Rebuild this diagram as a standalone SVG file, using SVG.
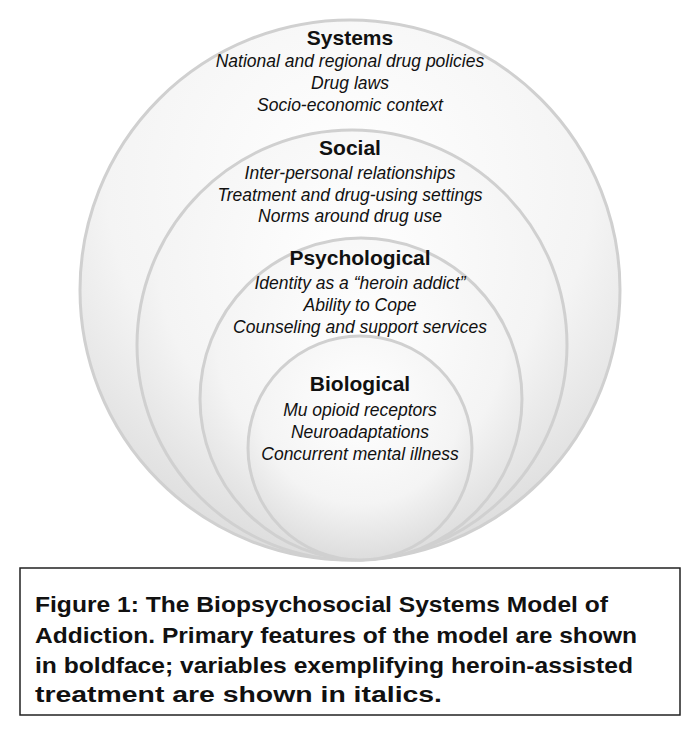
<svg xmlns="http://www.w3.org/2000/svg" width="700" height="735" viewBox="0 0 700 735">
<style>
.c{stroke:#d0d0d0;stroke-width:3;fill:url(#g)}
.h{font-family:"Liberation Sans",Arial,sans-serif;font-weight:bold;font-size:21px;text-anchor:middle;fill:#111}
.i{font-family:"Liberation Sans",Arial,sans-serif;font-style:italic;font-size:17.5px;text-anchor:middle;fill:#111}
.cap{font-family:"Liberation Sans",Arial,sans-serif;font-weight:bold;font-size:22px;fill:#111}
</style>
<defs>
<radialGradient id="g" cx="0.5" cy="0.3" r="0.75">
<stop offset="0" stop-color="#ffffff"/>
<stop offset="0.6" stop-color="#f4f4f4"/>
<stop offset="1" stop-color="#d8d8d8"/>
</radialGradient>
</defs>
<g id="systems"><circle class="c" cx="350" cy="290" r="270"/>
<text class="h" x="350" y="45">Systems</text>
<text class="i" x="350" y="67">National and regional drug policies</text>
<text class="i" x="350" y="89">Drug laws</text>
<text class="i" x="350" y="111">Socio-economic context</text></g>
<g id="social"><circle class="c" cx="352" cy="345" r="215"/>
<text class="h" x="350" y="155">Social</text>
<text class="i" x="350" y="179">Inter-personal relationships</text>
<text class="i" x="350" y="201">Treatment and drug-using settings</text>
<text class="i" x="350" y="222">Norms around drug use</text></g>
<g id="psychological"><circle class="c" cx="361" cy="399" r="161"/>
<text class="h" x="360" y="265">Psychological</text>
<text class="i" x="360" y="289">Identity as a “heroin addict”</text>
<text class="i" x="360" y="311">Ability to Cope</text>
<text class="i" x="360" y="333">Counseling and support services</text></g>
<g id="biological"><circle class="c" cx="360" cy="448" r="112"/>
<text class="h" x="360" y="391">Biological</text>
<text class="i" x="360" y="416">Mu opioid receptors</text>
<text class="i" x="360" y="438">Neuroadaptations</text>
<text class="i" x="360" y="460">Concurrent mental illness</text></g>
<g id="connectors"/>
<g id="caption"><rect x="20" y="568" width="660" height="147" fill="#fff" stroke="#222" stroke-width="1.5"/>
<text class="cap" x="35" y="612" textLength="573" lengthAdjust="spacingAndGlyphs">Figure 1: The Biopsychosocial Systems Model of</text>
<text class="cap" x="35" y="643" textLength="602" lengthAdjust="spacingAndGlyphs">Addiction. Primary features of the model are shown</text>
<text class="cap" x="35" y="673" textLength="598" lengthAdjust="spacingAndGlyphs">in boldface; variables exemplifying heroin-assisted</text>
<text class="cap" x="35" y="702" textLength="407" lengthAdjust="spacingAndGlyphs">treatment are shown in italics.</text></g>
</svg>
